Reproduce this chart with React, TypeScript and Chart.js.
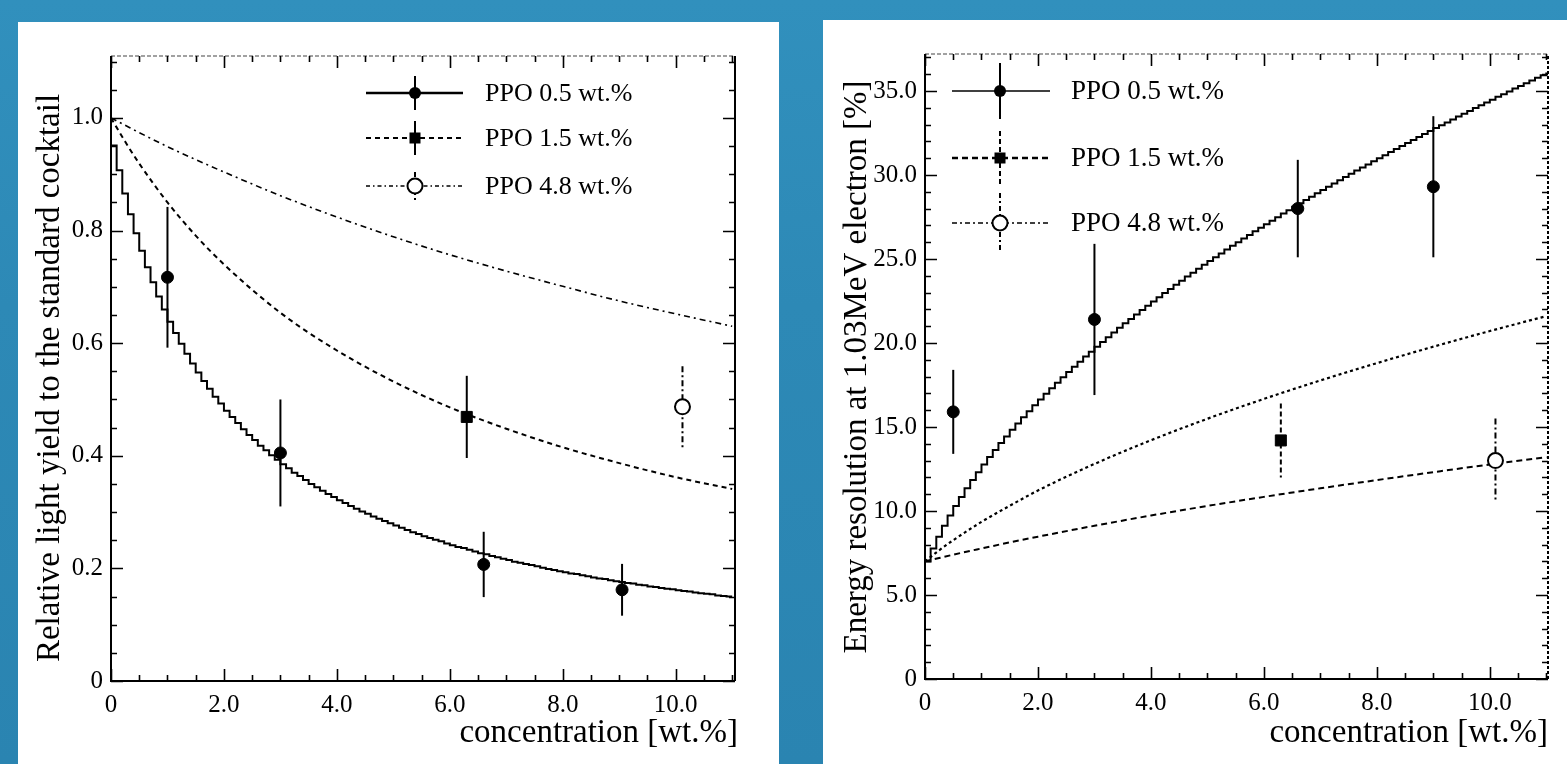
import React, { useEffect, useRef } from "react";
import { Chart, registerables } from "chart.js";

Chart.register(...registerables);

const FONT = "'Liberation Serif', 'Times New Roman', serif";

// ---------------- shared axis data ----------------
const X_LABEL_TICKS = [0, 2, 4, 6, 8, 10];
const LEFT_Y_LABEL_TICKS = [0, 0.2, 0.4, 0.6, 0.8, 1.0];
const RIGHT_Y_LABEL_TICKS = [0, 5, 10, 15, 20, 25, 30, 35];
const BIN_WIDTH = 0.1; // histogram bin width of the stepped curves [wt.%]
const CURVE_X = [0, 0.25, 0.5, 1, 1.5, 2, 3, 4, 5, 6, 7, 8, 9, 10, 11];

// ---------------- left panel: relative light yield ----------------
const LEFT_PPO05_CURVE = [
  1.0, 0.951, 0.907, 0.866, 0.829, 0.795, 0.764, 0.735, 0.708, 0.683,
  0.66, 0.638, 0.618, 0.599, 0.581, 0.564, 0.548, 0.533, 0.519, 0.505,
  0.493, 0.48, 0.469, 0.458, 0.447, 0.437, 0.428, 0.418, 0.41, 0.401,
  0.393, 0.385, 0.378, 0.37, 0.364, 0.357, 0.35, 0.344, 0.338, 0.332,
  0.327, 0.321, 0.316, 0.311, 0.306, 0.301, 0.297, 0.292, 0.288, 0.284,
  0.28, 0.276, 0.272, 0.268, 0.264, 0.261, 0.257, 0.254, 0.251, 0.248,
  0.244, 0.241, 0.238, 0.236, 0.233, 0.23, 0.227, 0.225, 0.222, 0.22,
  0.217, 0.215, 0.212, 0.21, 0.208, 0.206, 0.204, 0.201, 0.199, 0.197,
  0.195, 0.193, 0.191, 0.19, 0.188, 0.186, 0.184, 0.182, 0.181, 0.179,
  0.177, 0.176, 0.174, 0.173, 0.171, 0.17, 0.168, 0.167, 0.165, 0.164,
  0.163, 0.161, 0.16, 0.159, 0.157, 0.156, 0.155, 0.154, 0.152, 0.151,
  0.15,
];
const LEFT_PPO15_CURVE = [1.0, 0.958, 0.919, 0.85, 0.791, 0.74, 0.654, 0.587, 0.532, 0.486, 0.448, 0.415, 0.387, 0.362, 0.341];
const LEFT_PPO48_CURVE = [1.0, 0.987, 0.974, 0.949, 0.926, 0.904, 0.862, 0.824, 0.789, 0.757, 0.728, 0.701, 0.675, 0.652, 0.63];

const LEFT_PPO05_X = [1.0, 3.0, 6.6, 9.05];
const LEFT_PPO05_Y = [0.717, 0.405, 0.207, 0.162];
const LEFT_PPO05_ERR = [0.125, 0.095, 0.058, 0.046];
const LEFT_PPO15_X = [6.3];
const LEFT_PPO15_Y = [0.469];
const LEFT_PPO15_ERR = [0.073];
const LEFT_PPO48_X = [10.12];
const LEFT_PPO48_Y = [0.487];
const LEFT_PPO48_ERR = [0.072];

// ---------------- right panel: energy resolution ----------------
const RIGHT_PPO05_CURVE = [
  7.0, 7.77, 8.47, 9.12, 9.73, 10.3, 10.84, 11.35, 11.84, 12.31,
  12.77, 13.21, 13.63, 14.04, 14.44, 14.83, 15.21, 15.58, 15.94, 16.3,
  16.64, 16.98, 17.31, 17.64, 17.96, 18.28, 18.58, 18.89, 19.19, 19.48,
  19.77, 20.06, 20.34, 20.62, 20.9, 21.17, 21.43, 21.7, 21.96, 22.22,
  22.47, 22.72, 22.97, 23.22, 23.46, 23.71, 23.95, 24.18, 24.42, 24.65,
  24.88, 25.11, 25.33, 25.56, 25.78, 26.0, 26.22, 26.43, 26.65, 26.86,
  27.07, 27.28, 27.49, 27.7, 27.9, 28.11, 28.31, 28.51, 28.71, 28.91,
  29.1, 29.3, 29.49, 29.69, 29.88, 30.07, 30.26, 30.44, 30.63, 30.82,
  31.0, 31.18, 31.37, 31.55, 31.73, 31.91, 32.08, 32.26, 32.44, 32.61,
  32.79, 32.96, 33.13, 33.3, 33.48, 33.65, 33.81, 33.98, 34.15, 34.32,
  34.48, 34.65, 34.81, 34.97, 35.14, 35.3, 35.46, 35.62, 35.78, 35.94,
  36.1,
];
const RIGHT_PPO15_CURVE = [7.0, 7.66, 8.26, 9.35, 10.31, 11.22, 12.8, 14.21, 15.49, 16.67, 17.77, 18.8, 19.78, 20.71, 21.6];
const RIGHT_PPO48_CURVE = [7.0, 7.2, 7.4, 7.77, 8.13, 8.47, 9.12, 9.73, 10.3, 10.84, 11.35, 11.84, 12.31, 12.77, 13.2];

const RIGHT_PPO05_X = [0.5, 3.0, 6.6, 9.0];
const RIGHT_PPO05_Y = [15.9, 21.4, 28.0, 29.3];
const RIGHT_PPO05_ERR = [2.5, 4.5, 2.9, 4.2];
const RIGHT_PPO15_X = [6.3];
const RIGHT_PPO15_Y = [14.2];
const RIGHT_PPO15_ERR = [2.2];
const RIGHT_PPO48_X = [10.1];
const RIGHT_PPO48_Y = [13.0];
const RIGHT_PPO48_ERR = [2.5];

const LEGEND_LABELS = ["PPO 0.5 wt.%", "PPO 1.5 wt.%", "PPO 4.8 wt.%"];

// ---------------- helpers ----------------
const pts = (xs: number[], ys: number[]) => xs.map((x, i) => ({ x, y: ys[i] }));
const binPts = (ys: number[]) => ys.map((y, i) => ({ x: Math.round(i * BIN_WIDTH * 10) / 10, y }));
const fmt = (v: number) => (v === 0 ? "0" : Number(v).toFixed(1));

type Marker = "dot" | "square" | "open";

function drawMarker(ctx: CanvasRenderingContext2D, kind: Marker, x: number, y: number) {
  ctx.save();
  ctx.setLineDash([]);
  if (kind === "dot") {
    ctx.fillStyle = "#000";
    ctx.beginPath();
    ctx.arc(x, y, 6, 0, Math.PI * 2);
    ctx.fill();
  } else if (kind === "square") {
    ctx.fillStyle = "#000";
    ctx.fillRect(x - 5.5, y - 5.5, 11, 11);
  } else {
    ctx.fillStyle = "#fff";
    ctx.strokeStyle = "#000";
    ctx.lineWidth = 2;
    ctx.beginPath();
    ctx.arc(x, y, 7.5, 0, Math.PI * 2);
    ctx.fill();
    ctx.stroke();
  }
  ctx.restore();
}

const errorBarPlugin = {
  id: "errorBars",
  beforeDatasetsDraw(chart: any) {
    const { ctx } = chart;
    const xs = chart.scales.x;
    const ys = chart.scales.y;
    chart.data.datasets.forEach((ds: any) => {
      if (!ds.errors) return;
      ctx.save();
      ctx.strokeStyle = "#000";
      ctx.lineWidth = ds.errWidth ?? 2;
      ctx.setLineDash(ds.errDash ?? []);
      ds.data.forEach((p: any, i: number) => {
        const px = xs.getPixelForValue(p.x);
        ctx.beginPath();
        ctx.moveTo(px, ys.getPixelForValue(p.y + ds.errors[i]));
        ctx.lineTo(px, ys.getPixelForValue(p.y - ds.errors[i]));
        ctx.stroke();
      });
      ctx.restore();
    });
  },
};

type LegendEntry = { label: string; lineDash: number[]; lineWidth: number; marker: Marker; barDash: number[]; barHalf: number };

type FrameCfg = {
  xMinorStep: number;
  xMajorEvery: number;
  yMinorStep: number;
  yMajorEvery: number;
  rightDash: number[];
  legend: { lineX0: number; lineX1: number; markerX: number; textX: number; rows: number[]; fontSize: number; entries: LegendEntry[] };
  yTitle: { text: string; cx: number; cy: number };
  xTitle: { text: string; right: number; baseline: number };
};

function makeFramePlugin(cfg: FrameCfg) {
  return {
    id: "frame",
    afterDraw(chart: any) {
      const { ctx, chartArea: a } = chart;
      const xs = chart.scales.x;
      const ys = chart.scales.y;
      ctx.save();
      // borders
      ctx.strokeStyle = "#000";
      ctx.lineWidth = 2;
      ctx.setLineDash([]);
      ctx.beginPath();
      ctx.moveTo(a.left, a.top);
      ctx.lineTo(a.left, a.bottom);
      ctx.lineTo(a.right, a.bottom);
      ctx.stroke();
      ctx.lineWidth = 2;
      ctx.setLineDash(cfg.rightDash);
      ctx.beginPath();
      ctx.moveTo(a.right, a.bottom);
      ctx.lineTo(a.right, a.top);
      ctx.stroke();
      ctx.lineWidth = 1.2;
      ctx.strokeStyle = "#444";
      ctx.setLineDash([4, 2]);
      ctx.beginPath();
      ctx.moveTo(a.left, a.top);
      ctx.lineTo(a.right, a.top);
      ctx.stroke();
      ctx.setLineDash([]);
      ctx.strokeStyle = "#000";
      ctx.lineWidth = 1.6;
      // x ticks (bottom and top, inward)
      const nx = Math.floor(xs.max / cfg.xMinorStep + 1e-6);
      for (let i = 0; i <= nx; i++) {
        const v = i * cfg.xMinorStep;
        const major = i % cfg.xMajorEvery === 0;
        const len = major ? 12 : 6;
        const px = Math.round(xs.getPixelForValue(v)) + 0.5;
        ctx.beginPath();
        ctx.moveTo(px, a.bottom);
        ctx.lineTo(px, a.bottom - len);
        ctx.moveTo(px, a.top);
        ctx.lineTo(px, a.top + len);
        ctx.stroke();
      }
      // y ticks (left and right, inward)
      const ny = Math.floor(ys.max / cfg.yMinorStep + 1e-6);
      for (let i = 0; i <= ny; i++) {
        const v = i * cfg.yMinorStep;
        const major = i % cfg.yMajorEvery === 0;
        const len = major ? 12 : 6;
        const py = Math.round(ys.getPixelForValue(v)) + 0.5;
        ctx.beginPath();
        ctx.moveTo(a.left, py);
        ctx.lineTo(a.left + len, py);
        ctx.moveTo(a.right, py);
        ctx.lineTo(a.right - len, py);
        ctx.stroke();
      }
      // legend
      const L = cfg.legend;
      L.entries.forEach((e, i) => {
        const y = L.rows[i];
        ctx.strokeStyle = "#000";
        ctx.lineWidth = e.lineWidth;
        ctx.setLineDash(e.lineDash);
        ctx.beginPath();
        ctx.moveTo(L.lineX0, y);
        ctx.lineTo(L.lineX1, y);
        ctx.stroke();
        ctx.lineWidth = 2;
        ctx.setLineDash(e.barDash);
        ctx.beginPath();
        ctx.moveTo(L.markerX, y - e.barHalf);
        ctx.lineTo(L.markerX, y + e.barHalf);
        ctx.stroke();
        ctx.setLineDash([]);
        drawMarker(ctx, e.marker, L.markerX, y);
        ctx.fillStyle = "#000";
        ctx.font = `${L.fontSize}px ${FONT}`;
        ctx.textAlign = "left";
        ctx.textBaseline = "middle";
        ctx.fillText(e.label, L.textX, y + 1);
      });
      // titles
      ctx.fillStyle = "#000";
      ctx.font = `33px ${FONT}`;
      ctx.save();
      ctx.translate(cfg.yTitle.cx, cfg.yTitle.cy);
      ctx.rotate(-Math.PI / 2);
      ctx.textAlign = "center";
      ctx.textBaseline = "middle";
      ctx.fillText(cfg.yTitle.text, 0, 0);
      ctx.restore();
      ctx.textAlign = "right";
      ctx.textBaseline = "alphabetic";
      ctx.fillText(cfg.xTitle.text, cfg.xTitle.right, cfg.xTitle.baseline);
      ctx.restore();
    },
  };
}

function makeScales(xMax: number, yMax: number, yTicks: number[], yWidth: number, xHeight: number) {
  return {
    x: {
      type: "linear",
      min: 0,
      max: xMax,
      afterBuildTicks: (s: any) => {
        s.ticks = X_LABEL_TICKS.map((v) => ({ value: v }));
      },
      afterFit: (s: any) => {
        s.height = xHeight;
      },
      ticks: { callback: (v: any) => fmt(v), font: { family: FONT, size: 25 }, color: "#000", padding: 9, maxRotation: 0, autoSkip: false },
      grid: { display: false, drawTicks: false },
      border: { display: false },
    },
    y: {
      type: "linear",
      min: 0,
      max: yMax,
      afterBuildTicks: (s: any) => {
        s.ticks = yTicks.map((v) => ({ value: v }));
      },
      afterFit: (s: any) => {
        s.width = yWidth;
      },
      ticks: { callback: (v: any) => fmt(v), font: { family: FONT, size: 25 }, color: "#000", padding: 8, autoSkip: false },
      grid: { display: false, drawTicks: false },
      border: { display: false },
    },
  };
}

const curve = (data: any[], extra: any) => ({
  type: "line",
  data,
  borderColor: "#000",
  backgroundColor: "#000",
  borderWidth: 2,
  pointRadius: 0,
  fill: false,
  ...extra,
});

const points = (data: any[], errors: number[], kind: Marker, errDash: number[]) => ({
  type: "line",
  data,
  showLine: false,
  errors,
  errDash,
  pointStyle: kind === "square" ? "rect" : "circle",
  pointRadius: kind === "dot" ? 6 : kind === "square" ? 7.8 : 7.5,
  pointBackgroundColor: kind === "open" ? "#fff" : "#000",
  pointBorderColor: "#000",
  pointBorderWidth: kind === "open" ? 2 : 1,
  borderColor: "#000",
});

function leftConfig(): any {
  return {
    type: "line",
    data: {
      datasets: [
        points(pts(LEFT_PPO05_X, LEFT_PPO05_Y), LEFT_PPO05_ERR, "dot", []),
        points(pts(LEFT_PPO15_X, LEFT_PPO15_Y), LEFT_PPO15_ERR, "square", []),
        points(pts(LEFT_PPO48_X, LEFT_PPO48_Y), LEFT_PPO48_ERR, "open", [6, 3, 2, 3]),
        curve(binPts(LEFT_PPO05_CURVE), { stepped: "after", borderWidth: 2 }),
        curve(pts(CURVE_X, LEFT_PPO15_CURVE), { borderDash: [5, 4], borderWidth: 2, cubicInterpolationMode: "monotone" }),
        curve(pts(CURVE_X, LEFT_PPO48_CURVE), { borderDash: [6, 4, 2, 4], borderWidth: 1.6, cubicInterpolationMode: "monotone" }),
      ],
    },
    options: {
      animation: false,
      responsive: false,
      layout: { padding: { left: 0, right: 44, top: 34, bottom: 0 } },
      plugins: { legend: { display: false }, tooltip: { enabled: false } },
      scales: makeScales(11.05, 1.11, LEFT_Y_LABEL_TICKS, 93, 83),
    },
    plugins: [
      errorBarPlugin,
      makeFramePlugin({
        xMinorStep: 0.5,
        xMajorEvery: 4,
        yMinorStep: 0.05,
        yMajorEvery: 4,
        rightDash: [],
        legend: {
          lineX0: 348,
          lineX1: 445,
          markerX: 397,
          textX: 467,
          rows: [71, 116, 164],
          fontSize: 26,
          entries: [
            { label: LEGEND_LABELS[0], lineDash: [], lineWidth: 2.6, marker: "dot", barDash: [], barHalf: 17 },
            { label: LEGEND_LABELS[1], lineDash: [5, 4], lineWidth: 2.2, marker: "square", barDash: [], barHalf: 17 },
            { label: LEGEND_LABELS[2], lineDash: [4, 3, 1.5, 3], lineWidth: 1.6, marker: "open", barDash: [5, 3, 2, 3], barHalf: 14 },
          ],
        },
        yTitle: { text: "Relative light yield to the standard cocktail", cx: 32, cy: 356 },
        xTitle: { text: "concentration [wt.%]", right: 720, baseline: 720 },
      }),
    ],
  };
}

function rightConfig(): any {
  return {
    type: "line",
    data: {
      datasets: [
        points(pts(RIGHT_PPO05_X, RIGHT_PPO05_Y), RIGHT_PPO05_ERR, "dot", []),
        points(pts(RIGHT_PPO15_X, RIGHT_PPO15_Y), RIGHT_PPO15_ERR, "square", [5, 3]),
        points(pts(RIGHT_PPO48_X, RIGHT_PPO48_Y), RIGHT_PPO48_ERR, "open", [6, 3, 2, 3]),
        curve(binPts(RIGHT_PPO05_CURVE), { stepped: "before", borderWidth: 2 }),
        curve(pts(CURVE_X, RIGHT_PPO15_CURVE), { borderDash: [3, 3], borderWidth: 2.2, cubicInterpolationMode: "monotone" }),
        curve(pts(CURVE_X, RIGHT_PPO48_CURVE), { borderDash: [6, 4], borderWidth: 2, cubicInterpolationMode: "monotone" }),
      ],
    },
    options: {
      animation: false,
      responsive: false,
      layout: { padding: { left: 0, right: 19, top: 34, bottom: 0 } },
      plugins: { legend: { display: false }, tooltip: { enabled: false } },
      scales: makeScales(11.03, 37.2, RIGHT_Y_LABEL_TICKS, 102, 85),
    },
    plugins: [
      errorBarPlugin,
      makeFramePlugin({
        xMinorStep: 0.5,
        xMajorEvery: 4,
        yMinorStep: 1,
        yMajorEvery: 5,
        rightDash: [3, 2],
        legend: {
          lineX0: 129,
          lineX1: 227,
          markerX: 177,
          textX: 248,
          rows: [71, 138, 203],
          fontSize: 27,
          entries: [
            { label: LEGEND_LABELS[0], lineDash: [], lineWidth: 1.4, marker: "dot", barDash: [], barHalf: 28 },
            { label: LEGEND_LABELS[1], lineDash: [6, 4], lineWidth: 2.6, marker: "square", barDash: [5, 3], barHalf: 27 },
            { label: LEGEND_LABELS[2], lineDash: [5, 3, 2, 3], lineWidth: 1.6, marker: "open", barDash: [5, 3, 2, 3], barHalf: 30 },
          ],
        },
        yTitle: { text: "Energy resolution at 1.03MeV electron [%]", cx: 34, cy: 347 },
        xTitle: { text: "concentration [wt.%]", right: 725, baseline: 722 },
      }),
    ],
  };
}

function Panel({ left, top, width, height, build }: { left: number; top: number; width: number; height: number; build: () => any }) {
  const ref = useRef<HTMLCanvasElement | null>(null);
  useEffect(() => {
    if (!ref.current) return;
    const chart = new Chart(ref.current, build());
    return () => chart.destroy();
  }, [build]);
  return (
    <div style={{ position: "absolute", left, top, width, height, background: "#fff" }}>
      <canvas ref={ref} width={width} height={height} style={{ display: "block", width, height }} />
    </div>
  );
}

export default function App() {
  return (
    <div
      style={{
        position: "fixed",
        left: 0,
        top: 0,
        width: 1567,
        height: 764,
        overflow: "hidden",
        background: "linear-gradient(180deg, #3190bd 0%, #2d89b6 40%, #2a84b1 100%)",
      }}
    >
      <Panel left={18} top={22} width={761} height={742} build={leftConfig} />
      <Panel left={823} top={20} width={744} height={744} build={rightConfig} />
    </div>
  );
}
